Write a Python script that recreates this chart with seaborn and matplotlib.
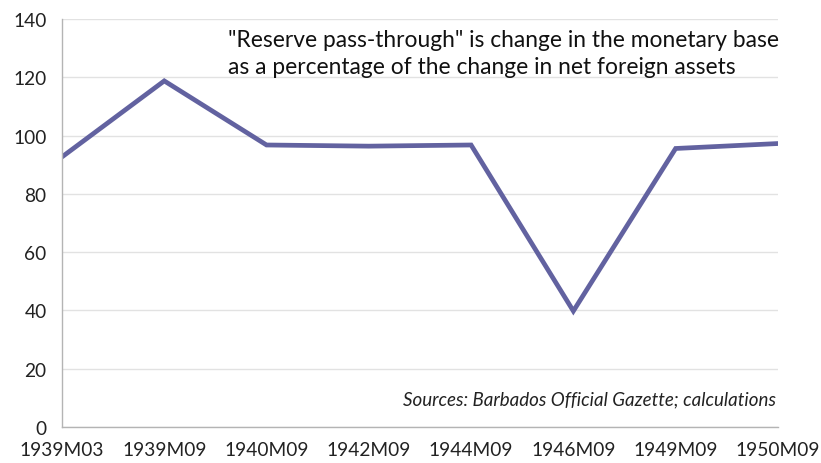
import matplotlib
matplotlib.use("Agg")
import matplotlib.pyplot as plt
import seaborn as sns
import pandas as pd

periods = ["1939M03", "1939M09", "1940M09", "1942M09",
           "1944M09", "1946M09", "1949M09", "1950M09"]
pass_through = [92.7, 118.8, 96.8, 96.4, 96.8, 39.8, 95.6, 97.3]
y_ticks = [0, 20, 40, 60, 80, 100, 120, 140]

df = pd.DataFrame({"period": periods, "value": pass_through,
                   "pos": range(len(periods))})

sns.set_theme(style="white")
plt.rcParams["font.family"] = ["Lato", "DejaVu Sans"]

fig = plt.figure(figsize=(8.21, 4.64), dpi=100)
ax = fig.add_axes([0.0755, 0.0776, 0.872, 0.879])

sns.lineplot(data=df, x="pos", y="value", ax=ax, color="#6262a0",
             linewidth=3.4, solid_joinstyle="miter")

ax.set_xlim(0, len(periods) - 1)
ax.set_ylim(0, 140)
ax.set_yticks(y_ticks)
ax.set_xticks(range(len(periods)))
ax.set_xticklabels(periods)
ax.set_xlabel("")
ax.set_ylabel("")

ax.yaxis.grid(True, color="#e2e2e2", linewidth=1)
ax.set_axisbelow(True)
for side in ["top", "right"]:
    ax.spines[side].set_visible(False)
for side in ["left", "bottom"]:
    ax.spines[side].set_color("#b4b4b4")
    ax.spines[side].set_linewidth(1)

ax.tick_params(axis="both", which="both", length=5, width=1,
               color="#b4b4b4", labelsize=13.8, labelcolor="#222222",
               direction="out")
ax.tick_params(axis="x", pad=5)
ax.tick_params(axis="y", pad=6)

ax.text(0.232, 0.977, "\"Reserve pass-through\" is change in the monetary base\n"
        "as a percentage of the change in net foreign assets",
        transform=ax.transAxes, fontsize=16.4, color="#111111",
        va="top", ha="left", linespacing=1.38)

ax.text(0.997, 0.07, "Sources: Barbados Official Gazette; calculations",
        transform=ax.transAxes, fontsize=13.5, style="italic",
        color="#222222", ha="right", va="center")

fig.savefig("out.png", dpi=100)
